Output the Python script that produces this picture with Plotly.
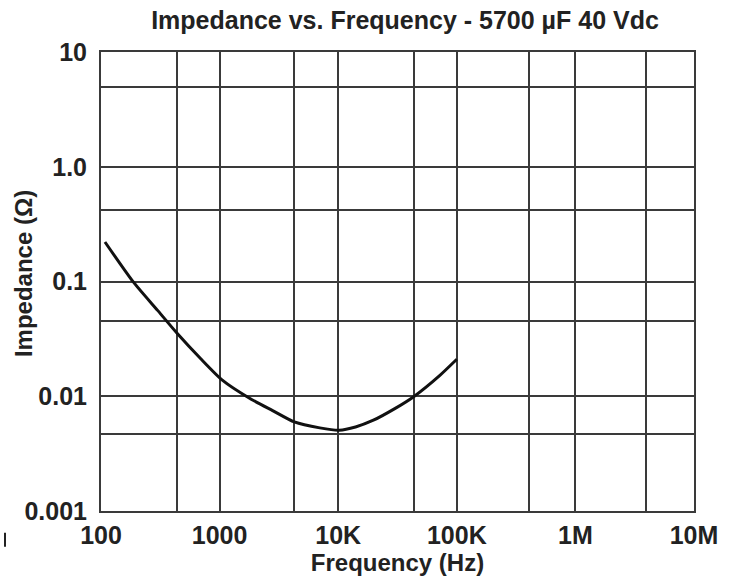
import plotly.graph_objects as go

# Data
freq_hz = [108, 187, 300, 440, 700, 1054, 1803, 2800, 4266, 7000, 10200, 14000, 19800, 30000, 43000, 72000, 100000]
impedance_ohm = [0.221, 0.0992, 0.056, 0.0352, 0.021, 0.0138, 0.00955, 0.0075, 0.00597, 0.0053, 0.00506, 0.0054, 0.00618, 0.0078, 0.00986, 0.0152, 0.021]

# Axis ticks / grid positions
x_tick_vals = [100, 440, 1000, 4240, 10000, 43800, 100000, 406000, 1000000, 3940000, 10000000]
x_tick_text = ["100", "", "1000", "", "10K", "", "100K", "", "1M", "", "10M"]
y_tick_vals = [0.001, 0.0047, 0.01, 0.045, 0.1, 0.42, 1, 5, 10]
y_tick_text = ["0.001", "", "0.01", "", "0.1", "", "1.0", "", "10"]

title_text = "Impedance vs. Frequency - 5700 µF 40 Vdc"
x_title = "Frequency (Hz)"
y_title = "Impedance (Ω)"

font_family = "Liberation Sans, Arial, sans-serif"
text_col = "#222222"
grid_col = "#3a3a3a"

W, H = 730, 584
L, R, T, B = 101, 36, 52, 69
plot_w, plot_h = W - L - R, H - T - B

fig = go.Figure()
fig.add_trace(go.Scatter(
    x=freq_hz, y=impedance_ohm, mode="lines",
    line=dict(color="#111111", width=3, shape="spline", smoothing=0.6),
    hoverinfo="skip", showlegend=False,
))

fig.update_layout(
    width=W, height=H,
    margin=dict(l=L, r=R, t=T, b=B),
    paper_bgcolor="white", plot_bgcolor="white",
    title=dict(text="<b>" + title_text + "</b>", x=405 / W, xanchor="center",
               y=1 - 20 / H, yanchor="middle",
               font=dict(family=font_family, size=25, color=text_col)),
    font=dict(family=font_family, color=text_col),
)

fig.update_xaxes(
    type="log", range=[2, 7],
    tickvals=x_tick_vals, ticktext=["<b>" + t + "</b>" if t else "" for t in x_tick_text],
    tickfont=dict(family=font_family, size=25, color=text_col),
    showgrid=True, gridcolor=grid_col, gridwidth=2,
    showline=True, linecolor=grid_col, linewidth=2, mirror=True,
    ticks="", ticklabelstandoff=1, zeroline=False,
    title=dict(text="<b>" + x_title + "</b>", font=dict(family=font_family, size=24, color=text_col), standoff=6),
)
fig.update_yaxes(
    type="log", range=[-3, 1],
    tickvals=y_tick_vals, ticktext=["<b>" + t + "</b>" if t else "" for t in y_tick_text],
    tickfont=dict(family=font_family, size=25, color=text_col),
    showgrid=True, gridcolor=grid_col, gridwidth=2,
    showline=True, linecolor=grid_col, linewidth=2, mirror=True,
    ticks="", ticklabelstandoff=7, zeroline=False,
)

# Rotated y-axis title placed where the reference has it
fig.add_annotation(
    text="<b>" + y_title + "</b>", textangle=-90,
    xref="paper", yref="paper",
    x=(23 - L) / plot_w, y=(H - B - 276) / plot_h,
    xanchor="center", yanchor="middle", showarrow=False,
    font=dict(family=font_family, size=24, color=text_col),
)

# Small stray mark at the bottom-left corner of the reference
fig.add_shape(
    type="line", xref="paper", yref="paper",
    x0=(5 - L) / plot_w, x1=(5 - L) / plot_w,
    y0=(H - B - 537) / plot_h, y1=(H - B - 551) / plot_h,
    line=dict(color=text_col, width=2),
)

fig.write_html(
    "out.html",
    config={"displayModeBar": False},
    post_script="document.body.style.margin='0';document.body.style.overflow='hidden';",
)
